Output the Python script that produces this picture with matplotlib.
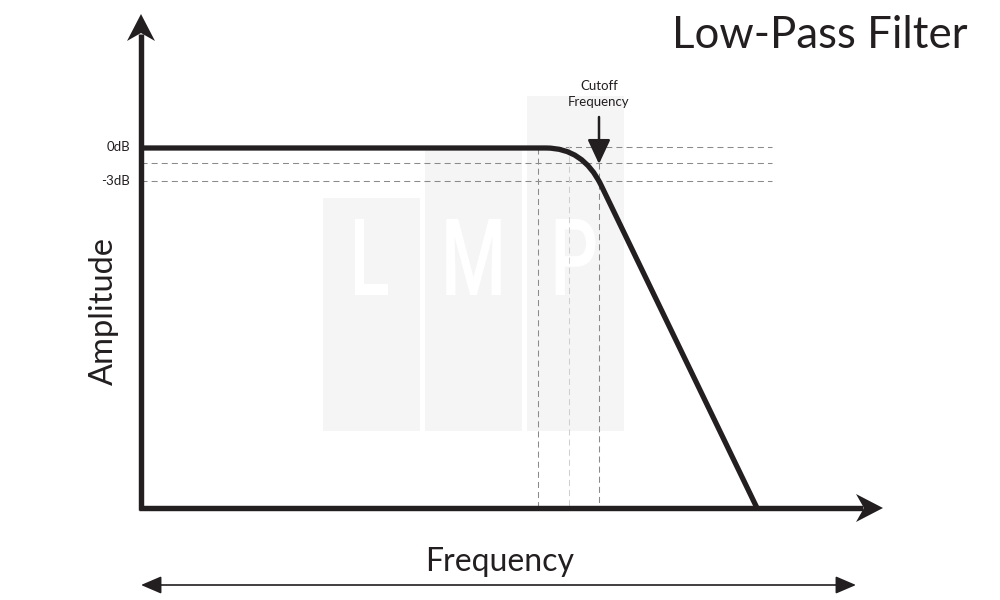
import numpy as np
import matplotlib
matplotlib.use("Agg")
import matplotlib.pyplot as plt
from matplotlib.path import Path
from matplotlib.patches import PathPatch, Polygon, Rectangle, FancyArrowPatch
from matplotlib.textpath import TextPath
from matplotlib.font_manager import FontProperties
from matplotlib.transforms import Affine2D

# diagram frame (pixel space of the 1000x600 picture)
x0, y0 = 141, 508          # origin of the axes
x_tip, y_tip = 883, 14     # arrow tips of x and y axes

# response curve: flat pass band, rounded knee, straight roll-off
knee_start = (546, 148)
knee_ctrl = (583, 148)
knee_end = (601, 185)
roll_end = (757, 508)

# reference levels
level_names = ["0dB", "", "-3dB"]
level_y = [147, 163, 181]
vert_x = [538, 569, 599]
vert_top = [148, 146, 163]
vert_col = ["#8a8a8a", "#cfcfcf", "#8a8a8a"]

# watermark boxes
box_letters = ["L", "M", "P"]
box_left = [323, 425, 527]
box_top = [198, 148, 96]
box_bottom = 431
box_w = 97

ink = "#231f20"
font = ["Lato", "DejaVu Sans"]

fig = plt.figure(figsize=(10, 6), dpi=100)
ax = fig.add_axes([0, 0, 1, 1])
ax.set_xlim(0, 1000)
ax.set_ylim(600, 0)
ax.axis("off")

# watermark (condensed letters made from text paths)
wm_prop = FontProperties(family="Roboto", weight="medium")
cap_top, cap_bot = 219, 295
for L, bl, bt in zip(box_letters, box_left, box_top):
    ax.add_patch(Rectangle((bl, bt), box_w, box_bottom - bt, color="#f5f5f5", lw=0, zorder=0))
    tp = TextPath((0, 0), L, size=100, prop=wm_prop)
    ext = tp.get_extents()
    sy = (cap_bot - cap_top) / ext.height
    sx = sy * 0.7
    cx = bl + box_w / 2
    tr = (Affine2D().translate(-(ext.x0 + ext.width / 2), -ext.y0)
          .scale(sx, -sy).translate(cx, cap_bot))
    ax.add_patch(PathPatch(tr.transform_path(tp), color="white", lw=0, zorder=1))

# dashed guides
for yy in level_y:
    ax.plot([x0, 772], [yy, yy], color="#8a8a8a", lw=0.75, dashes=(5.8, 3.9), zorder=2)
for xx, yt, c in zip(vert_x, vert_top, vert_col):
    ax.plot([xx, xx], [yt, y0], color=c, lw=0.75, dashes=(5.8, 3.9), zorder=2)

# curve
verts = [(x0, knee_start[1]), knee_start, knee_ctrl, knee_end, roll_end]
codes = [Path.MOVETO, Path.LINETO, Path.CURVE3, Path.CURVE3, Path.LINETO]
ax.add_patch(PathPatch(Path(verts, codes), fill=False, ec=ink, lw=3.8,
                       capstyle="butt", joinstyle="round", zorder=4))

# axes lines with stealth heads
ax.plot([x0, x0], [y0 + 2, y_tip + 20], color=ink, lw=3.9, solid_capstyle="butt", zorder=5)
ax.plot([x0 - 2, x_tip - 20], [y0, y0], color=ink, lw=3.9, solid_capstyle="butt", zorder=5)
hl, hw, notch = 27, 14, 8
ax.add_patch(Polygon([(x0, y_tip), (x0 - hw, y_tip + hl), (x0, y_tip + hl - notch),
                      (x0 + hw, y_tip + hl)], closed=True, color=ink, lw=0, zorder=6))
ax.add_patch(Polygon([(x_tip, y0), (x_tip - hl, y0 - hw), (x_tip - hl + notch, y0),
                      (x_tip - hl, y0 + hw)], closed=True, color=ink, lw=0, zorder=6))

# level labels
for name, yy in zip(level_names, level_y):
    if name:
        ax.text(130, yy, name, ha="right", va="center", fontsize=9.5, color=ink, family=font)

# cutoff arrow
ax.text(599, 94, "Cutoff\nFrequency", ha="center", va="center", fontsize=9.5,
        color=ink, family=font, linespacing=1.35)
ax.add_patch(FancyArrowPatch((599, 117), (599, 164), arrowstyle="-|>,head_length=0.75,head_width=0.35",
                             mutation_scale=20, color=ink, lw=1.8, shrinkA=0, shrinkB=0, zorder=6))

# bottom span arrow
ax.add_patch(FancyArrowPatch((141, 585), (856, 585), arrowstyle="<|-|>,head_length=0.7,head_width=0.3",
                             mutation_scale=18, color=ink, lw=1.2, shrinkA=0, shrinkB=0))

# labels
ax.text(967, 36, "Low-Pass Filter", ha="right", va="center", fontsize=31.5, color=ink, family=font)
ax.text(500, 562, "Frequency", ha="center", va="center", fontsize=23, color=ink, family=font)
ax.text(104, 311, "Amplitude", ha="center", va="center", rotation=90, fontsize=23.5, color=ink, family=font)

fig.savefig("out.png", dpi=100)
